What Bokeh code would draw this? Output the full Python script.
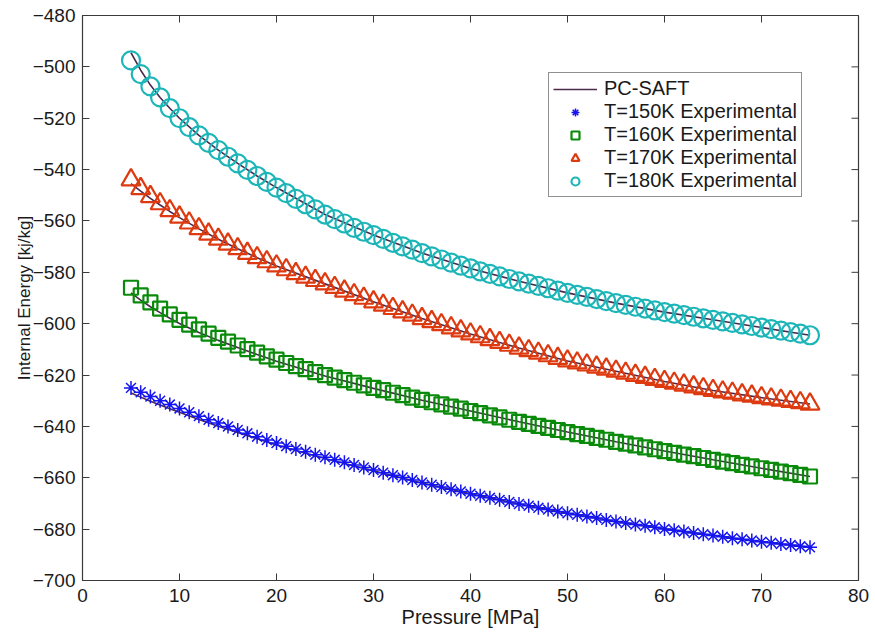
from bokeh.plotting import figure
from bokeh.models import Range1d, Legend, LegendItem, FixedTicker
from bokeh.embed import file_html
from bokeh.resources import INLINE

# ---------------- data ----------------
pressure = list(range(5, 76))

u_150 = [-625.0, -626.7, -628.4, -630.0, -631.5, -633.0, -634.5, -636.0, -637.4, -638.7,
         -640.0, -641.4, -642.7, -644.0, -645.3, -646.5, -647.7, -648.8, -649.9, -651.0,
         -652.0, -653.0, -654.0, -655.0, -656.0, -657.0, -658.0, -659.0, -659.9, -660.9,
         -661.8, -662.7, -663.6, -664.5, -665.3, -666.2, -667.0, -667.8, -668.6, -669.4,
         -670.2, -670.9, -671.7, -672.4, -673.1, -673.8, -674.4, -675.1, -675.7, -676.4,
         -677.0, -677.6, -678.2, -678.7, -679.3, -679.9, -680.4, -680.9, -681.5, -682.0,
         -682.5, -683.0, -683.5, -683.9, -684.4, -684.9, -685.3, -685.8, -686.2, -686.7,
         -687.1]

u_160 = [-586.0, -589.0, -591.7, -594.1, -596.4, -598.5, -600.4, -602.2, -603.9, -605.5,
         -607.0, -608.5, -609.9, -611.3, -612.7, -614.0, -615.3, -616.5, -617.7, -618.9,
         -620.0, -621.0, -622.0, -623.0, -624.0, -625.0, -625.9, -626.9, -627.8, -628.8,
         -629.7, -630.6, -631.4, -632.3, -633.1, -634.0, -634.8, -635.7, -636.5, -637.4,
         -638.2, -639.0, -639.8, -640.6, -641.4, -642.2, -643.0, -643.7, -644.5, -645.2,
         -646.0, -646.7, -647.4, -648.2, -648.9, -649.6, -650.3, -651.0, -651.6, -652.3,
         -653.0, -653.7, -654.3, -655.0, -655.6, -656.3, -656.9, -657.6, -658.2, -658.9,
         -659.5]

u_170 = [-544.0, -547.4, -550.5, -553.3, -556.0, -558.5, -560.8, -563.0, -565.1, -567.1,
         -569.0, -570.8, -572.6, -574.3, -575.9, -577.5, -579.0, -580.5, -581.9, -583.2,
         -584.5, -585.9, -587.3, -588.7, -590.1, -591.5, -592.8, -594.1, -595.4, -596.7,
         -598.0, -599.2, -600.4, -601.6, -602.8, -604.0, -605.1, -606.2, -607.3, -608.4,
         -609.5, -610.5, -611.5, -612.5, -613.5, -614.5, -615.3, -616.1, -616.9, -617.7,
         -618.5, -619.3, -620.1, -620.9, -621.7, -622.5, -623.2, -623.9, -624.6, -625.3,
         -626.0, -626.6, -627.1, -627.7, -628.2, -628.8, -629.3, -629.8, -630.3, -630.8,
         -631.3]

u_180 = [-497.5, -502.8, -507.6, -511.9, -516.1, -520.0, -523.5, -526.7, -529.6, -532.4,
         -535.0, -537.6, -540.1, -542.5, -544.8, -547.0, -549.2, -551.4, -553.5, -555.5,
         -557.5, -559.3, -561.0, -562.7, -564.2, -565.5, -567.0, -568.5, -569.9, -571.2,
         -572.5, -573.8, -575.0, -576.2, -577.4, -578.5, -579.6, -580.6, -581.6, -582.6,
         -583.5, -584.4, -585.3, -586.2, -587.1, -588.0, -588.8, -589.6, -590.4, -591.2,
         -592.0, -592.7, -593.4, -594.1, -594.8, -595.5, -596.1, -596.7, -597.3, -597.9,
         -598.5, -599.1, -599.7, -600.3, -600.9, -601.5, -602.1, -602.7, -603.3, -603.9,
         -604.5]

# PC-SAFT model curves
model_p = [5, 6, 7, 8, 9, 10, 12, 14, 16, 18, 20, 25, 30, 35, 40, 45, 50, 55, 60, 65, 70, 75]
model_150 = [-627.0, -628.6, -630.2, -631.7, -633.1, -634.5, -637.3, -639.9, -642.4, -644.8, -647.2,
             -652.5, -657.3, -662.0, -666.2, -670.2, -673.8, -677.0, -679.9, -682.5, -684.9, -687.1]
model_160 = [-588.0, -590.8, -593.4, -595.7, -597.9, -599.9, -603.4, -606.5, -609.3, -612.0, -614.6,
             -620.4, -625.2, -629.8, -634.0, -638.2, -642.2, -646.0, -649.6, -653.0, -656.3, -659.5]
model_170 = [-545.5, -548.4, -551.2, -553.8, -556.3, -558.7, -563.1, -567.1, -570.8, -574.3, -577.5,
             -584.5, -591.5, -598.0, -604.0, -609.5, -614.5, -618.5, -622.5, -626.0, -628.8, -631.3]
model_180 = [-494.5, -501.3, -507.1, -511.9, -516.1, -520.0, -526.7, -532.4, -537.6, -542.5, -547.0,
             -557.5, -565.5, -572.5, -578.5, -583.5, -588.0, -592.0, -595.5, -598.5, -601.5, -604.5]

x_ticks = [0, 10, 20, 30, 40, 50, 60, 70, 80]
y_ticks = [-700, -680, -660, -640, -620, -600, -580, -560, -540, -520, -500, -480]

labels = ["T=150K Experimental", "T=160K Experimental", "T=170K Experimental", "T=180K Experimental"]

# ---------------- figure ----------------
FONT = "Liberation Sans"
TXT = "#1a1a1a"
AX = "#3a3a3a"
X0, X1, Y0, Y1 = 0, 80, -700, -480
W, H = 875, 632
BL, BR, BT, BB = 82, 17, 15, 52
TICK = 7  # tick length in px

p = figure(width=W, height=H, output_backend="svg", toolbar_location=None,
           x_range=Range1d(X0, X1), y_range=Range1d(Y0, Y1),
           min_border_left=BL, min_border_right=BR, min_border_top=BT, min_border_bottom=BB)
p.grid.visible = False
p.outline_line_color = AX
p.outline_line_width = 1.2
p.background_fill_color = "white"
p.border_fill_color = "white"

for ax in (p.xaxis[0], p.yaxis[0]):
    ax.major_tick_in = TICK
    ax.major_tick_out = 0
    ax.minor_tick_in = 0
    ax.minor_tick_out = 0
    ax.axis_line_color = AX
    ax.major_tick_line_color = AX
    ax.major_label_text_font = FONT
    ax.major_label_text_font_size = "19px"
    ax.major_label_text_color = TXT
    ax.axis_label_text_font = FONT
    ax.axis_label_text_font_style = "normal"
    ax.axis_label_text_color = TXT

p.xaxis[0].ticker = FixedTicker(ticks=x_ticks)
p.yaxis[0].ticker = FixedTicker(ticks=y_ticks)
p.xaxis[0].axis_label = "Pressure [MPa]"
p.yaxis[0].axis_label = "Internal Energy [kj/kg]"
p.xaxis[0].axis_label_text_font_size = "20px"
p.yaxis[0].axis_label_text_font_size = "17px"
p.xaxis[0].major_label_standoff = 8
p.xaxis[0].axis_label_standoff = 1
p.yaxis[0].major_label_standoff = 7
p.yaxis[0].axis_label_standoff = -4

# mirrored ticks on top / right edges (MATLAB box style)
fw = W - BL - BR
fh = H - BT - BB
dy = TICK * (Y1 - Y0) / fh
dx = TICK * (X1 - X0) / fw
tx = [t for t in x_ticks if X0 < t < X1]
ty = [t for t in y_ticks if Y0 < t < Y1]
p.segment(x0=tx, y0=[Y1] * len(tx), x1=tx, y1=[Y1 - dy] * len(tx), line_color=AX, line_width=1)
p.segment(x0=[X1] * len(ty), y0=ty, x1=[X1 - dx] * len(ty), y1=ty, line_color=AX, line_width=1)

line_color = "#4b2a4e"
l150 = p.line(model_p, model_150, line_color=line_color, line_width=1.6)
p.line(model_p, model_160, line_color=line_color, line_width=1.6)
p.line(model_p, model_170, line_color=line_color, line_width=1.6)
p.line(model_p, model_180, line_color=line_color, line_width=1.6)

s150 = p.scatter(pressure, u_150, marker="asterisk", size=14, line_color="#1414f0", line_width=1.5)
s160 = p.scatter(pressure, u_160, marker="square", size=14, line_color="#0a8a0a", fill_color=None, line_width=2.2)
s170 = p.scatter(pressure, u_170, marker="triangle", size=19, line_color="#dd3a10", fill_color=None, line_width=2.2)
s180 = p.scatter(pressure, u_180, marker="circle", size=18, line_color="#1cb5b8", fill_color=None, line_width=2.2)

legend = Legend(items=[
    LegendItem(label="PC-SAFT", renderers=[l150]),
    LegendItem(label=labels[0], renderers=[s150]),
    LegendItem(label=labels[1], renderers=[s160]),
    LegendItem(label=labels[2], renderers=[s170]),
    LegendItem(label=labels[3], renderers=[s180]),
], location=(466, 383))
legend.label_text_font = FONT
legend.label_text_font_size = "20px"
legend.label_text_color = TXT
legend.border_line_color = "#222222"
legend.border_line_width = 1
legend.background_fill_alpha = 1
legend.padding = 4
legend.spacing = 0
legend.margin = 0
legend.label_standoff = 7
legend.glyph_width = 44
legend.glyph_height = 20
legend.label_height = 20
p.add_layout(legend, "center")

open("out.html", "w").write(file_html(p, INLINE))
